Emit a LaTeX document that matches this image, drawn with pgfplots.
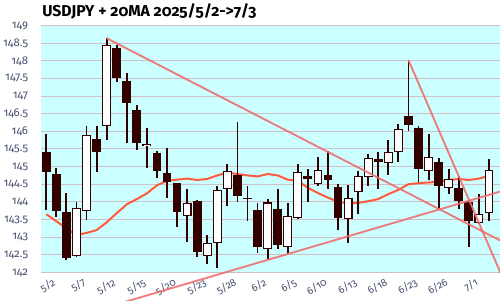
\documentclass[border=0pt]{standalone}
\usepackage{pgfplots}
\pgfplotsset{compat=1.18}
\usepackage{pgfplotstable}
\usepackage{fontspec}
\setmainfont{Fira Sans}[Numbers=OldStyle]
\definecolor{bgc}{RGB}{204,255,255}
\definecolor{gridc}{RGB}{208,192,200}
\definecolor{candle}{RGB}{51,0,0}
\definecolor{mac}{RGB}{255,90,60}
\definecolor{trendc}{RGB}{238,110,110}
\definecolor{tickc}{RGB}{70,80,110}

\pgfplotstableread{
i O H L C
0 145.41 145.93 143.77 144.86
1 144.79 144.97 143.56 143.73
2 143.72 144.26 142.36 142.42
3 142.48 144.00 142.45 143.81
4 143.76 146.16 143.49 145.89
5 145.79 146.16 144.86 145.40
6 146.17 148.64 145.74 148.44
7 148.36 148.44 147.41 147.50
8 147.43 147.66 145.66 146.79
9 146.61 146.74 145.47 145.68
10 145.59 146.09 144.96 145.63
11 145.38 145.45 144.69 144.88
12 144.81 145.53 144.12 144.55
13 144.53 144.53 143.30 143.70
14 143.61 144.37 142.85 143.96
15 144.02 144.06 142.45 142.59
16 142.48 143.07 142.24 142.83
17 142.86 144.45 142.14 144.33
18 144.38 145.08 143.87 144.87
19 144.77 146.27 144.01 144.18
20 144.12 144.45 143.47 144.10
21 143.77 143.97 142.56 142.71
22 142.68 144.08 142.39 143.97
23 143.80 144.36 142.66 142.79
24 142.74 143.96 142.56 143.59
25 143.56 145.07 143.51 144.84
26 144.74 144.93 144.01 144.64
27 144.52 145.28 144.44 144.90
28 144.76 145.44 144.36 144.62
29 144.42 144.52 143.21 143.53
30 143.54 144.47 142.83 144.11
31 144.30 144.88 143.67 144.73
32 144.71 145.35 144.44 145.24
33 145.21 145.41 144.38 145.14
34 145.12 145.76 144.77 145.40
35 145.44 146.20 145.14 146.06
36 146.43 148.02 146.02 146.17
37 146.09 146.14 144.55 144.93
38 144.90 145.93 144.62 145.25
39 145.13 145.25 143.77 144.45
40 144.42 144.94 144.22 144.63
41 144.39 144.74 143.81 144.04
42 143.99 144.06 142.71 143.45
43 143.42 144.22 143.37 143.65
44 143.71 145.22 143.47 144.90
}\ohlc

\pgfplotstableread{
i ma
0 143.65
1 143.45
2 143.25
3 143.06
4 143.12
5 143.20
6 143.42
7 143.68
8 143.93
9 144.08
10 144.24
11 144.47
12 144.60
13 144.63
14 144.66
15 144.62
16 144.65
17 144.75
18 144.83
19 144.79
20 144.75
21 144.72
22 144.79
23 144.75
24 144.63
25 144.59
26 144.40
27 144.25
28 144.12
29 144.00
30 143.96
31 143.97
32 144.02
33 144.08
34 144.22
35 144.34
36 144.50
37 144.53
38 144.55
39 144.57
40 144.62
41 144.65
42 144.62
43 144.66
44 144.74
}\matab

\pgfplotstableread{
x y
6 148.64
47 142.63
}\trendA
\pgfplotstableread{
x y
0 140.51
47 144.45
}\trendB
\pgfplotstableread{
x y
36 148.02
47 140.77
}\trendC

\begin{document}
\begin{tikzpicture}
\begin{axis}[
  scale only axis, width=344.25pt, height=185.2pt,
  xmin=-0.527, xmax=45.1, ymin=142, ymax=149,
  clip=false,
  axis background/.style={fill=bgc},
  axis line style={draw=none},
  major tick length=0pt,
  ytick={142,142.5,143,143.5,144,144.5,145,145.5,146,146.5,147,147.5,148,148.5,149},
  ymajorgrids, grid style={gridc, line width=0.75pt},
  xtick={0,3,6,9,12,15,18,21,24,27,30,33,36,39,42},
  xticklabels={5/2,5/7,5/12,5/15,5/20,5/23,5/28,6/2,6/5,6/10,6/13,6/18,6/23,6/26,7/1},
  /pgf/number format/assume math mode=true,
  yticklabel style={font=\fontsize{8.5}{10}\selectfont, text=tickc, anchor=east, inner sep=0pt, xshift=-9.5pt},
  xticklabel style={font=\fontsize{7.8}{9}\selectfont, text=tickc, rotate=30, anchor=north east, inner sep=0pt, yshift=-5pt, xshift=2pt},
]
\addplot[mac, line width=1.5pt, mark=none] table[x=i,y=ma]{\matab};
% wicks
\addplot[draw=none, mark=none,
  error bars/.cd, y dir=both, y explicit, error mark=none,
  error bar style={draw=candle, line width=1.4pt}]
  table[x=i, y expr={(\thisrow{H}+\thisrow{L})/2}, y error expr={(\thisrow{H}-\thisrow{L})/2}]{\ohlc};
% down bodies
\addplot[draw=none, mark=none,
  restrict expr to domain={\thisrow{C}-\thisrow{O}}{-100:-0.0001},
  error bars/.cd, y dir=both, y explicit, error mark=none,
  error bar style={draw=candle, line width=6.6pt}]
  table[x=i, y expr={(\thisrow{O}+\thisrow{C})/2}, y error expr={(\thisrow{O}-\thisrow{C})/2}]{\ohlc};
% up bodies outline
\addplot[draw=none, mark=none,
  restrict expr to domain={\thisrow{C}-\thisrow{O}}{0:100},
  error bars/.cd, y dir=both, y explicit, error mark=none,
  error bar style={draw=candle, line width=6.6pt}]
  table[x=i, y expr={(\thisrow{O}+\thisrow{C})/2}, y error expr={(\thisrow{C}-\thisrow{O})/2+0.014}]{\ohlc};
% up bodies fill
\addplot[draw=none, mark=none,
  restrict expr to domain={\thisrow{C}-\thisrow{O}}{0:100},
  error bars/.cd, y dir=both, y explicit, error mark=none,
  error bar style={draw=white, line width=5.0pt}]
  table[x=i, y expr={(\thisrow{O}+\thisrow{C})/2}, y error expr={max((\thisrow{C}-\thisrow{O})/2-0.016,0)}]{\ohlc};
% trend lines
\addplot[trendc, opacity=0.9, line width=1.4pt, mark=none] table[x=x,y=y]{\trendA};
\addplot[trendc, opacity=0.9, line width=1.4pt, mark=none] table[x=x,y=y]{\trendB};
\addplot[trendc, opacity=0.9, line width=1.4pt, mark=none] table[x=x,y=y]{\trendC};
\node[anchor=base west, inner sep=0pt, font=\bfseries\fontsize{11.8}{13}\selectfont] at ([xshift=0.75pt, yshift=6.6pt]rel axis cs:0,1) {USDJPY + 20MA 2025/5/2->7/3};
\coordinate (bbl) at (axis cs:-4.602,141.217);
\coordinate (btr) at (axis cs:45.1,149.723);
\end{axis}
\pgfresetboundingbox
\path[use as bounding box] (bbl) rectangle (btr);
\end{tikzpicture}
\end{document}
